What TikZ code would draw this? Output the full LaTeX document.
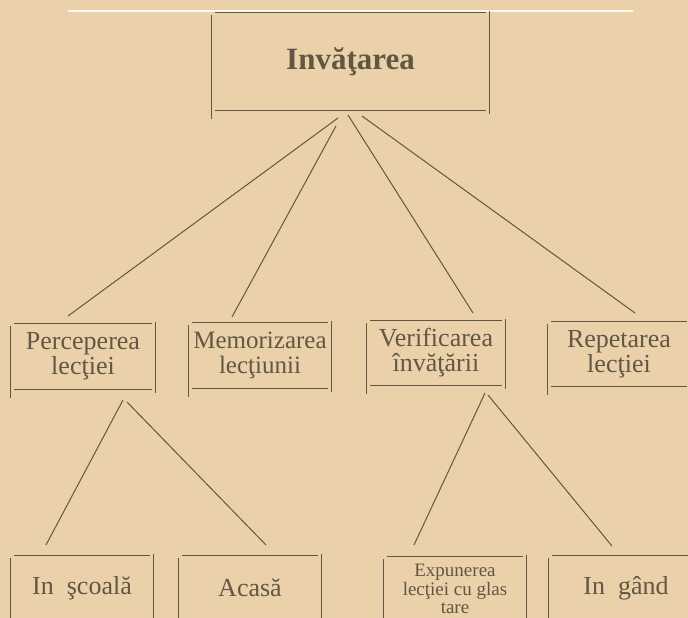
\documentclass[tikz,border=0pt]{standalone}
\usepackage{fontspec}
\setmainfont{Liberation Serif}
\usetikzlibrary{calc}

\definecolor{hartie}{RGB}{234,209,170}
\definecolor{cerneala}{RGB}{98,86,68}

\tikzset{every picture/.style={line width=1.1pt}}
\tikzset{
  caseta/.style={draw=none, inner sep=0pt, align=center, text=cerneala},
  linie/.style={draw=cerneala, line width=1pt},
}
% the four sides of a box, verticals a bit longer than the horizontals
\newcommand{\laturi}[1]{%
  \draw[cerneala] ($(#1.north west)+(4,0)$) -- ($(#1.north east)+(-4,0)$);
  \draw[cerneala] ($(#1.south west)+(4,0)$) -- ($(#1.south east)+(-4,0)$);
  \draw[cerneala] ($(#1.north west)+(0,3)$) -- ($(#1.south west)+(0,8)$);
  \draw[cerneala] ($(#1.north east)+(0,-1)$) -- ($(#1.south east)+(0,3)$);
}

\begin{document}
\begin{tikzpicture}[x=1pt,y=1pt,yscale=-1,xscale=1]
%set diagram left start at 0, and has height of 618
\fill[hartie] (0,0) rectangle (688,618);
\useasboundingbox (0,0) rectangle (688,618);

%Straight Lines: page edge
\draw[white!85!hartie, line width=1.6pt] (68,11) -- (633,11);

% Text Node
\node[caseta, minimum width=277pt, minimum height=97pt, font=\fontsize{31}{34}\selectfont\bfseries] (invatarea) at (350.5,61.5) {Invăţarea};
\laturi{invatarea}

% Text Node
\node[caseta, minimum width=144pt, minimum height=65pt, font=\fontsize{26}{25}\selectfont] (perceperea) at (83,356.5) {Perceperea\\lecţiei};
\laturi{perceperea}
% Text Node
\node[caseta, minimum width=142pt, minimum height=65pt, font=\fontsize{25}{25}\selectfont] (memorizarea) at (260,355.5) {Memorizarea\\lecţiunii};
\laturi{memorizarea}
% Text Node
\node[caseta, minimum width=138pt, minimum height=64pt, font=\fontsize{26}{25}\selectfont] (verificarea) at (436,353) {Verificarea\\învăţării};
\laturi{verificarea}
% Text Node
\node[caseta, minimum width=142pt, minimum height=64pt, font=\fontsize{26}{25}\selectfont] (repetarea) at (619,354) {Repetarea\\lecţiei};
\laturi{repetarea}

% Text Node
\node[caseta, minimum width=142pt, minimum height=64pt, font=\fontsize{26}{25}\selectfont] (scoala) at (82,588) {In~ şcoală};
\laturi{scoala}
% Text Node
\node[caseta, minimum width=142pt, minimum height=64pt, font=\fontsize{26}{25}\selectfont] (acasa) at (250,588) {Acasă};
\laturi{acasa}
% Text Node
\node[caseta, minimum width=142pt, minimum height=64pt, font=\fontsize{19}{18.5}\selectfont] (expunerea) at (455,589) {Expunerea\\lecţiei cu glas\\tare};
\laturi{expunerea}
% Text Node
\node[caseta, minimum width=154pt, minimum height=64pt, font=\fontsize{26}{25}\selectfont] (gand) at (626,588) {In~ gând};
\laturi{gand}

% free ends of the connectors
\coordinate (i1) at (338,118);
\coordinate (i2) at (336,126);
\coordinate (i3) at (348,115);
\coordinate (i4) at (362,116);
\coordinate (p0) at (68,316);
\coordinate (m0) at (232,317);
\coordinate (v0) at (473,313);
\coordinate (r0) at (635,313);
\coordinate (p1) at (123,400);
\coordinate (p2) at (127,402);
\coordinate (v1) at (485,393);
\coordinate (v2) at (488,395);
\coordinate (s0) at (46,545);
\coordinate (a0) at (266,545);
\coordinate (e0) at (414,545);
\coordinate (g0) at (612,546);

%Straight Lines
\draw[linie] (i1) -- (p0);
\draw[linie] (i2) -- (m0);
\draw[linie] (i3) -- (v0);
\draw[linie] (i4) -- (r0);
%Straight Lines
\draw[linie] (p1) -- (s0);
\draw[linie] (p2) -- (a0);
\draw[linie] (v1) -- (e0);
\draw[linie] (v2) -- (g0);

\end{tikzpicture}
\end{document}
